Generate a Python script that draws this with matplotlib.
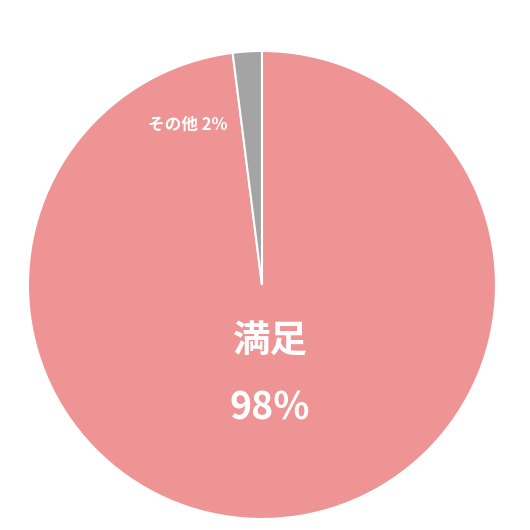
import matplotlib.pyplot as plt

plt.rcParams["font.family"] = ["Noto Sans CJK JP", "DejaVu Sans"]

labels = ["満足", "その他"]
values = [98, 2]
colors = ["#ee9494", "#a4a4a4"]

fig = plt.figure(figsize=(5.3, 5.3), dpi=100)
ax = fig.add_axes([0.0528, 0.0208, 0.883, 0.883])

ax.pie(
    values,
    colors=colors,
    startangle=90,
    counterclock=False,
    radius=1.0,
    wedgeprops={"edgecolor": "white", "linewidth": 1.5},
)
ax.set_xlim(-1, 1)
ax.set_ylim(-1, 1)
ax.set_aspect("equal")
ax.axis("off")

# big label for the main slice
ax.text(0.034, -0.235, labels[0], color="white", fontsize=27,
        fontweight="bold", ha="center", va="center")
ax.text(0.034, -0.525, "{0}%".format(values[0]), color="white", fontsize=27,
        fontweight="bold", ha="center", va="center")

# small label for the other slice
ax.text(-0.316, 0.684, "{0} {1}%".format(labels[1], values[1]), color="white",
        fontsize=12, fontweight="bold", ha="center", va="center")

fig.savefig("out.png", dpi=100)
